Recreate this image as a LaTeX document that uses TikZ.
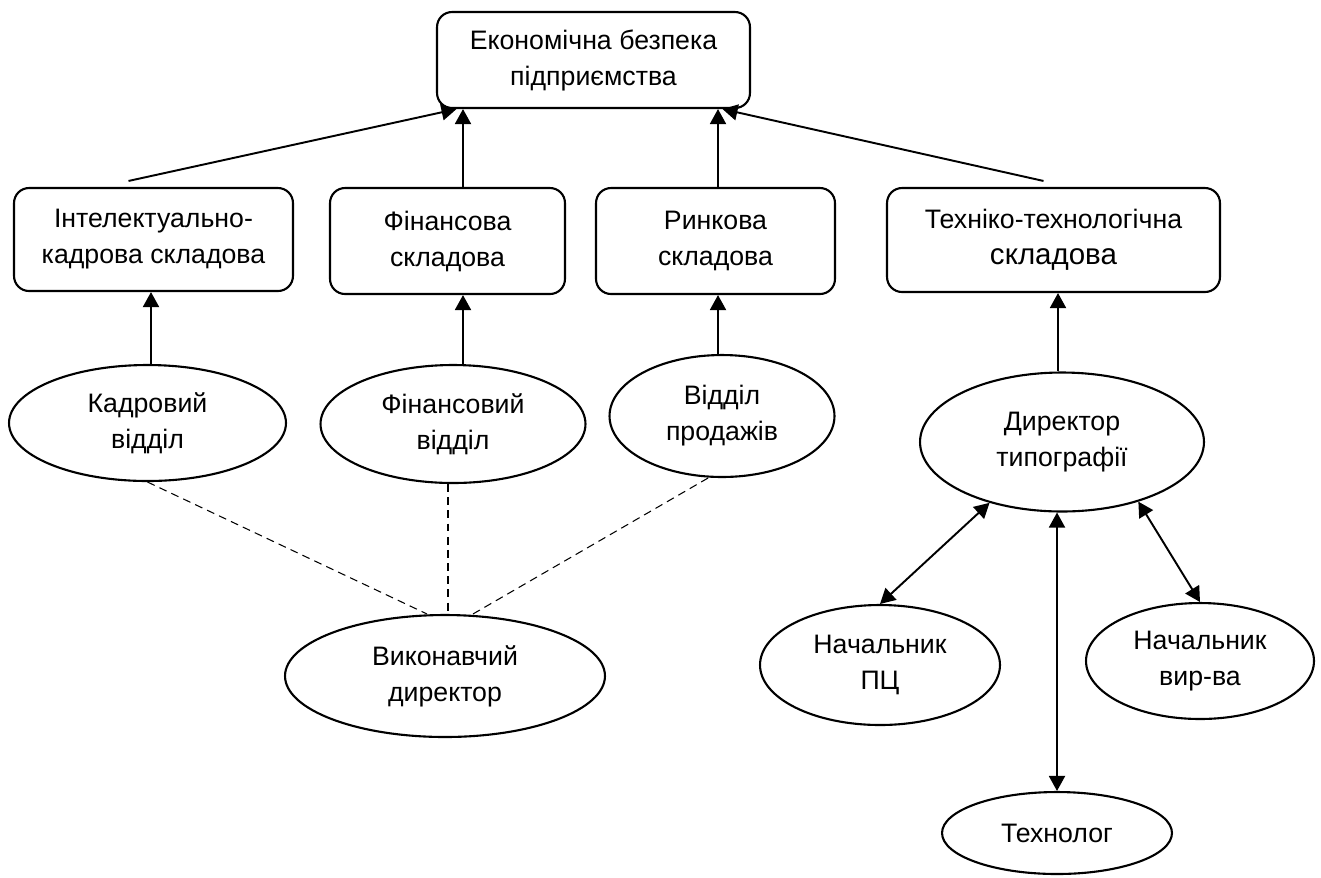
\documentclass[tikz,border=0pt]{standalone}
\usepackage{fontspec}
\setmainfont{Liberation Sans}
\usetikzlibrary{shapes.geometric,arrows.meta}

\begin{document}
\begin{tikzpicture}[x=0.02cm, y=-0.02cm,
    box/.style={draw, line width=1.2pt, rounded corners=0.3cm},
    oval/.style={draw, ellipse, line width=1.2pt},
    arr/.style={-{Triangle[width=0.32cm,length=0.3cm]}, line width=1.1pt},
    darr/.style={{Triangle[width=0.32cm,length=0.3cm]}-{Triangle[width=0.32cm,length=0.3cm]}, line width=1.1pt},
    link/.style={dash pattern=on 4.5pt off 3pt, line width=0.6pt}]
\tikzset{every node/.style={font=\fontsize{15.2}{20.5}\selectfont, align=center, inner sep=0pt}}
%\tikzset{every node/.style={font=\large, align=center}}
\useasboundingbox (0,0) rectangle (1321,877);

% top level
\node[box, minimum width=6.26cm, minimum height=1.92cm] (eb) at (593.5,60) {Економічна безпека\\підприємства};

% components
\node[box, minimum width=5.58cm, minimum height=2.06cm] (ik) at (153.5,239.5) {Інтелектуально-\\кадрова складова};
\node[box, minimum width=4.7cm, minimum height=2.12cm] (fk) at (447.5,241) {Фінансова\\складова};
\node[box, minimum width=4.78cm, minimum height=2.12cm] (rk) at (715.5,241) {Ринкова\\складова};
\node[box, minimum width=6.66cm, minimum height=2.08cm] (tk) at (1053.5,240) {Техніко-технологічна\\{\fontsize{16.8}{20.5}\selectfont складова}};

% departments
\node[oval, minimum width=5.54cm, minimum height=2.32cm] (kadr) at (147.5,423) {Кадровий\\відділ};
\node[oval, minimum width=5.3cm, minimum height=2.36cm] (fin) at (453,424) {Фінансовий\\відділ};
\node[oval, minimum width=4.5cm, minimum height=2.44cm] (prod) at (722,416) {Відділ\\продажів};
\node[oval, minimum width=5.68cm, minimum height=2.78cm] (dyr) at (1062,442) {Директор\\типографії};

% lower level
\node[oval, minimum width=6.4cm, minimum height=2.44cm] (vyk) at (445,676) {Виконавчий\\директор};
\node[oval, minimum width=4.8cm, minimum height=2.4cm] (pc) at (880,665) {Начальник\\ПЦ};
\node[oval, minimum width=4.56cm, minimum height=2.32cm] (vyr) at (1200,661) {Начальник\\вир-ва};
\node[oval, minimum width=4.6cm, minimum height=1.64cm] (tech) at (1057,833) {Технолог};

% arrows to the top
\coordinate (ik top) at ([shift={(-25,-6)}]ik.north);
\coordinate (tk top) at ([shift={(-10,-6)}]tk.north);
\draw[arr] (ik top) -- ([shift={(-137,0)}]eb.south);
\draw[arr] ([shift={(15.5,0)}]fk.north) -- ([shift={(15.5,0)}]fk.north |- eb.south);
\draw[arr] ([shift={(2.5,0)}]rk.north) -- ([shift={(2.5,0)}]rk.north |- eb.south);
\draw[arr] (tk top) -- ([shift={(129,0)}]eb.south);

% arrows to the components
\draw[arr] ([shift={(3.5,0)}]kadr.north) -- ([shift={(3.5,0)}]kadr.north |- ik.south);
\draw[arr] ([shift={(10,0)}]fin.north) -- ([shift={(10,0)}]fin.north |- fk.south);
\draw[arr] ([shift={(-4,0)}]prod.north) -- ([shift={(-4,0)}]prod.north |- rk.south);
\draw[arr] ([shift={(-4,0)}]dyr.north) -- ([shift={(-4,0)}]dyr.north |- tk.south);

% dashed links
\draw[link] (kadr.south) -- ([shift={(-18,0)}]vyk.north);
\draw[link] ([shift={(-5,0)}]fin.south) -- ([shift={(-5,0)}]fin.south |- vyk.north);
\draw[link] ([shift={(-14,0)}]prod.south) -- ([shift={(28,0)}]vyk.north);

% director links
\draw[darr] (dyr.220) -- (pc.north);
\draw[darr] (dyr.south -| tech.north) -- (tech.north);
\draw[darr] (dyr.322) -- (vyr.north);
\end{tikzpicture}
\end{document}
